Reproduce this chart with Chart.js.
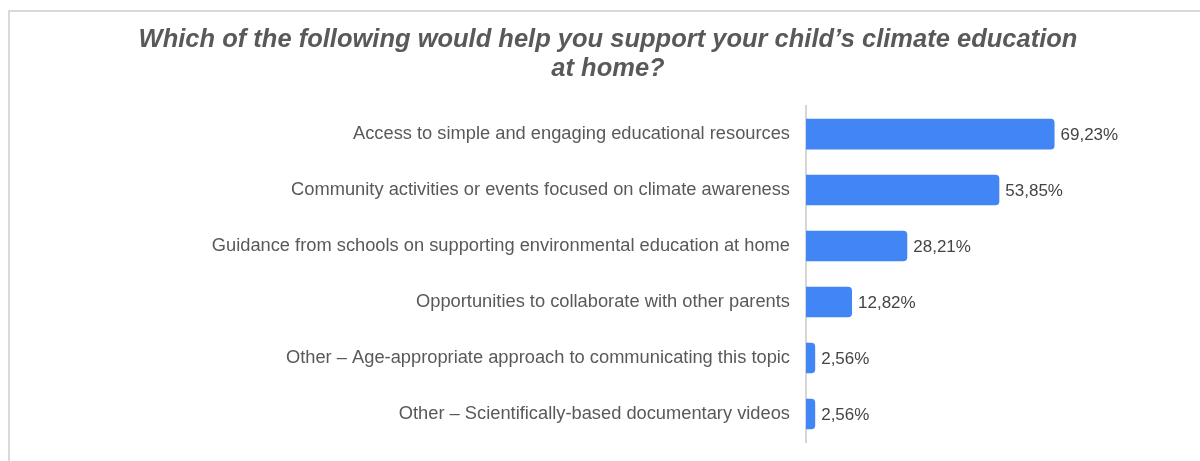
<!DOCTYPE html>
<html>
<head>
<meta charset="utf-8">
<script src="https://cdn.jsdelivr.net/npm/chart.js@4"></script>
<style>
  html, body { margin: 0; padding: 0; background: #ffffff; overflow: hidden; }
  #wrap { position: absolute; left: 0; top: 0; width: 1200px; height: 461px; }
</style>
</head>
<body>
<div id="wrap"><canvas id="c" width="1200" height="461"></canvas></div>
<script>
const titleLines = ["Which of the following would help you support your child\u2019s climate education", "at home?"];
const categories = [
  "Access to simple and engaging educational resources",
  "Community activities or events focused on climate awareness",
  "Guidance from schools on supporting environmental education at home",
  "Opportunities to collaborate with other parents",
  "Other \u2013 Age-appropriate approach to communicating this topic",
  "Other \u2013 Scientifically-based documentary videos"
];
const percentages = [69.23, 53.85, 28.21, 12.82, 2.56, 2.56];

const FONT = "'Liberation Sans', Arial, sans-serif";

const frame = {
  id: 'frame',
  beforeDraw(chart) {
    const ctx = chart.ctx;
    ctx.save();
    ctx.fillStyle = '#ffffff';
    ctx.fillRect(0, 0, chart.width, chart.height);
    ctx.strokeStyle = '#d9d9d9';
    ctx.lineWidth = 2;
    ctx.beginPath();
    ctx.moveTo(9, chart.height + 5);
    ctx.lineTo(9, 11);
    ctx.lineTo(chart.width + 5, 11);
    ctx.stroke();
    ctx.restore();
  }
};

const valueLabels = {
  id: 'valueLabels',
  afterDatasetsDraw(chart) {
    const ctx = chart.ctx;
    const meta = chart.getDatasetMeta(0);
    ctx.save();
    ctx.font = '17px ' + FONT;
    ctx.fillStyle = '#444444';
    ctx.textAlign = 'left';
    ctx.textBaseline = 'middle';
    meta.data.forEach((bar, i) => {
      const txt = percentages[i].toFixed(2).replace('.', ',') + '%';
      ctx.fillText(txt, bar.x + 6, bar.y + 1);
    });
    ctx.restore();
  }
};

new Chart(document.getElementById('c'), {
  type: 'bar',
  data: {
    labels: categories,
    datasets: [{
      data: percentages,
      backgroundColor: '#4285f4',
      borderWidth: 0,
      borderRadius: 4,
      barPercentage: 0.545,
      categoryPercentage: 1
    }]
  },
  options: {
    indexAxis: 'y',
    responsive: false,
    animation: false,
    layout: { padding: { left: 51, right: 35, top: 0, bottom: 19 } },
    plugins: {
      legend: { display: false },
      tooltip: { enabled: false },
      title: {
        display: true,
        text: titleLines,
        color: '#595959',
        font: { family: FONT, size: 25.5, weight: 'bold', style: 'italic', lineHeight: 1.14 },
        padding: { top: 25, bottom: 23 }
      }
    },
    scales: {
      x: {
        display: false,
        min: 0,
        max: 100
      },
      y: {
        grid: { display: false, drawTicks: false },
        border: { display: true, color: '#d6d6d6', width: 2 },
        ticks: {
          color: '#595959',
          font: { family: FONT, size: 18.3 },
          padding: 16
        },
        afterFit(scale) {
          scale.width = 755;
          scale.paddingTop = 0;
          scale.paddingBottom = 0;
        }
      }
    }
  },
  plugins: [frame, valueLabels]
});
</script>
</body>
</html>
